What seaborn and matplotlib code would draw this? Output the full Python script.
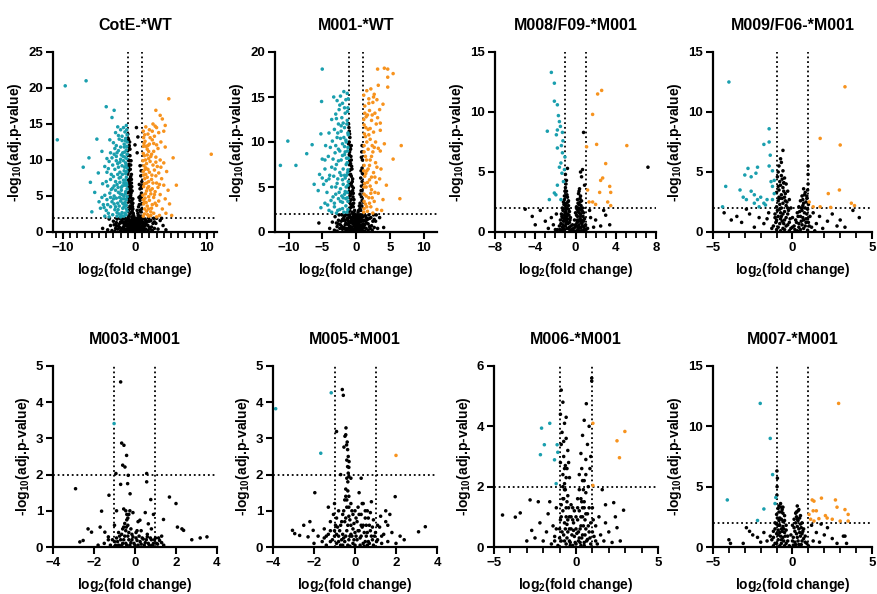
import numpy as np
import pandas as pd
import matplotlib
matplotlib.use("Agg")
import matplotlib.pyplot as plt
import seaborn as sns

# ---- data: (log2 fold change, -log10 adj. p) ----
# group "down" = teal, "up" = orange, "ns" = black

COTE_WT_DOWN = [
    (-9.7, 20.3), (-6.8, 21.0), (-10.8, 12.8), (-4.0, 17.4), (-2.9, 16.9), (-3.2, 15.9), (-5.3, 12.9),
    (-6.4, 10.3), (-7.2, 9.0), (-6.0, 2.8), (-6.2, 6.9), (-5.6, 5.5), (-5.1, 8.2), (-4.6, 11.2), (-4.8, 3.3),
    (-1.2, 14.8), (-1.6, 14.5), (-2.0, 14.2), (-1.4, 13.9), (-2.4, 14.6), (-1.1, 13.5), (-2.7, 13.8),
    (-1.3, 13.0), (-1.8, 12.7), (-2.2, 12.9), (-3.0, 12.4), (-1.5, 12.2), (-2.6, 12.0), (-3.5, 12.8), (-1.1, 12.5), (-2.0, 11.8),
    (-1.2, 11.4), (-1.7, 11.0), (-2.3, 11.3), (-2.9, 10.8), (-3.4, 11.0), (-1.4, 10.4), (-2.0, 10.1), (-2.6, 10.5), (-3.9, 10.2), (-1.1, 10.8),
    (-1.3, 9.6), (-1.8, 9.2), (-2.4, 9.5), (-3.1, 9.3), (-3.7, 8.8), (-1.5, 8.5), (-2.1, 8.3), (-2.8, 8.7), (-4.2, 9.1), (-1.1, 8.9), (-3.3, 8.0),
    (-1.2, 7.6), (-1.6, 7.2), (-2.2, 7.5), (-2.7, 7.0), (-3.4, 7.3), (-4.0, 7.0), (-1.4, 6.5), (-1.9, 6.2), (-2.5, 6.6), (-3.1, 6.1), (-3.8, 6.4), (-4.5, 6.7), (-1.1, 6.0),
    (-1.3, 5.6), (-1.8, 5.2), (-2.3, 5.5), (-2.9, 5.0), (-3.5, 5.4), (-4.2, 5.1), (-1.5, 4.6), (-2.0, 4.3), (-2.6, 4.7), (-3.2, 4.2), (-3.9, 4.5), (-4.6, 4.8), (-1.1, 4.9), (-5.0, 4.2),
    (-1.2, 3.7), (-1.7, 3.3), (-2.2, 3.6), (-2.8, 3.1), (-3.4, 3.5), (-4.0, 3.0), (-4.4, 3.8), (-1.4, 2.6), (-1.9, 2.3), (-2.5, 2.7), (-3.1, 2.4), (-3.7, 2.6), (-1.1, 2.9), (-2.0, 2.1), (-4.2, 2.2), (-1.6, 3.9), (-2.9, 3.9), (-3.6, 2.1),
    (-1.3, 8.1), (-1.9, 10.7), (-2.4, 8.0), (-1.6, 9.9), (-2.1, 6.9), (-1.7, 4.0), (-2.4, 4.0), (-1.2, 3.2), (-1.9, 5.8), (-2.7, 5.8),
    (-1.5, 11.8), (-2.3, 13.4), (-1.8, 13.3), (-1.2, 6.8), (-3.0, 7.7), (-3.6, 9.8), (-2.5, 2.2), (-3.3, 5.9), (-3.9, 8.3), (-4.3, 3.4),
    (-1.15, 14.2), (-1.35, 12.7), (-1.15, 11.9), (-1.45, 11.1), (-1.15, 10.2), (-1.65, 10.5), (-1.25, 9.3), (-1.45, 9.0),
    (-1.15, 8.4), (-1.75, 8.0), (-1.35, 7.2), (-1.55, 6.8), (-1.15, 6.5), (-1.75, 6.4), (-1.35, 5.3), (-1.55, 5.0), (-1.2, 4.5),
    (-1.85, 4.6), (-1.35, 4.1), (-1.5, 3.5), (-1.25, 2.4), (-1.55, 2.2), (-1.8, 2.7), (-2.2, 2.5), (-2.35, 3.1), (-2.15, 4.8),
    (-2.05, 5.3), (-2.35, 6.2), (-2.0, 7.6), (-2.3, 9.0), (-2.1, 9.7), (-2.5, 11.0), (-2.8, 11.6), (-2.6, 9.9), (-3.2, 10.3),
    (-2.9, 6.4), (-3.0, 4.6), (-3.4, 4.8), (-2.7, 3.5), (-3.8, 3.8),
]
COTE_WT_UP = [
    (4.7, 18.5), (2.9, 16.9), (10.6, 10.8), (5.3, 10.3), (5.75, 6.5), (5.1, 2.3), (3.8, 15.7), (4.2, 14.8), (4.0, 14.0), (3.5, 16.2),
    (1.5, 14.6), (2.0, 14.2), (2.5, 15.0), (3.0, 14.5), (1.8, 13.6), (2.7, 13.3), (3.3, 13.8), (1.2, 13.1),
    (1.4, 12.6), (2.0, 12.2), (2.4, 12.8), (3.0, 12.1), (3.6, 12.5), (1.7, 11.5), (2.6, 11.2), (3.2, 11.6), (1.2, 11.9), (4.2, 11.8),
    (1.3, 10.6), (1.9, 10.2), (2.3, 10.8), (2.9, 10.4), (3.5, 10.0), (1.6, 9.5), (2.5, 9.3), (3.1, 9.1), (4.0, 9.6), (1.1, 9.9),
    (1.4, 8.7), (2.0, 8.3), (2.7, 8.6), (3.3, 8.2), (4.4, 8.4), (1.7, 7.6), (2.3, 7.3), (2.9, 7.8), (3.7, 7.4), (1.2, 7.9),
    (1.3, 6.7), (1.9, 6.3), (2.5, 6.8), (3.2, 6.2), (4.0, 6.5), (1.6, 5.7), (2.2, 5.3), (2.8, 5.6), (3.5, 5.2), (4.6, 5.8), (1.1, 5.1),
    (1.4, 4.7), (2.0, 4.4), (2.6, 4.8), (3.3, 4.3), (4.2, 4.6), (1.7, 3.6), (2.3, 3.3), (3.0, 3.7), (3.8, 3.2), (1.2, 3.9), (4.8, 3.9),
    (1.3, 2.5), (1.9, 2.2), (2.6, 2.6), (3.4, 2.3), (4.3, 2.6), (1.6, 2.9), (2.2, 2.8), (3.0, 2.1),
    (1.5, 8.0), (2.1, 9.8), (1.8, 12.0), (2.4, 6.0), (1.3, 4.2), (2.8, 4.0), (1.9, 11.2), (2.4, 14.0), (1.6, 6.8), (3.6, 9.0),
    (1.15, 14.0), (1.35, 13.5), (1.25, 12.3), (1.55, 11.9), (1.15, 10.9), (1.45, 10.0), (1.7, 10.7), (1.25, 9.2), (1.5, 8.9),
    (1.8, 8.7), (1.15, 8.4), (1.35, 7.4), (1.9, 7.0), (1.2, 6.3), (1.75, 6.1), (1.45, 5.3), (1.9, 4.9), (1.15, 4.5), (1.55, 4.1),
    (1.9, 3.2), (1.35, 3.2), (1.15, 2.2), (1.75, 2.4), (2.2, 2.3), (2.4, 3.8), (2.15, 5.8), (2.35, 7.9), (2.2, 10.5), (2.6, 12.3),
    (2.9, 9.7), (3.0, 6.8), (2.7, 5.2), (3.4, 6.6), (2.1, 13.1), (2.8, 14.7),
]
COTE_WT_NS = [
    (-1.0, 13.6), (-0.9, 12.8), (-0.8, 12.0), (-1.0, 11.3), (-0.7, 10.6), (-0.9, 10.0), (-0.6, 9.3), (-0.8, 8.6), (-0.5, 8.0),
    (-0.7, 7.4), (-0.5, 6.8), (-0.8, 6.2), (-0.4, 5.7), (-0.6, 5.1), (-0.3, 4.6), (-0.5, 4.1), (-0.7, 3.6), (-0.3, 3.2), (-0.5, 2.7),
    (-0.2, 2.3), (-0.9, 9.0), (-0.8, 7.0), (-0.6, 4.8), (-0.4, 3.8), (-0.9, 5.5), (-1.0, 8.1), (-0.7, 11.5), (-0.6, 6.0), (-0.4, 2.9),
    (-0.95, 13.0), (-0.85, 11.8), (-0.95, 10.7), (-0.75, 9.9), (-0.85, 9.4), (-0.65, 8.7), (-0.95, 8.4), (-0.6, 7.7), (-0.85, 7.2),
    (-0.7, 6.6), (-0.45, 6.3), (-0.95, 6.5), (-0.55, 5.4), (-0.8, 4.9), (-0.45, 4.4), (-0.8, 4.2), (-0.35, 3.5), (-0.6, 3.3),
    (-0.9, 3.0), (-0.25, 2.6), (-0.7, 2.5), (-0.45, 2.1), (-0.9, 2.2), (-0.15, 2.1), (-0.55, 9.9), (-0.75, 12.5), (-0.65, 5.7),
    (-0.3, 4.0), (-0.95, 4.5), (-0.5, 7.3),
    (0.2, 14.5), (0.4, 13.2), (0.0, 12.1), (0.3, 11.0), (0.7, 9.2), (0.8, 7.8), (0.6, 6.6), (0.9, 5.4), (0.7, 4.4), (0.5, 3.5),
    (0.8, 2.8), (0.6, 2.2), (0.9, 3.9), (0.4, 2.6), (0.7, 6.0), (0.95, 7.0), (0.3, 3.0),
    (0.85, 8.5), (0.9, 6.3), (0.75, 5.0), (0.85, 4.8), (0.6, 3.8), (0.95, 3.2), (0.7, 3.0), (0.45, 2.3), (0.85, 2.2), (0.55, 4.8),
    (-3.8, 0.3), (-3.4, 0.9), (-3.0, 1.5), (-2.7, 0.5), (-2.5, 1.8), (-2.2, 1.1), (-2.0, 0.2), (-1.8, 1.6), (-1.6, 0.7), (-1.4, 1.9),
    (-1.2, 1.2), (-1.0, 0.4), (-0.9, 1.7), (-0.7, 0.9), (-0.6, 1.4), (-0.5, 0.1), (-0.4, 1.9), (-0.3, 0.6), (-0.2, 1.3), (-0.1, 0.3),
    (0.0, 1.7), (0.1, 0.9), (0.2, 0.1), (0.3, 1.5), (0.4, 0.6), (0.5, 1.9), (0.6, 1.1), (0.7, 0.3), (0.8, 1.6), (0.9, 0.8),
    (1.0, 1.3), (1.2, 0.5), (1.4, 1.8), (1.6, 1.0), (1.8, 0.2), (2.0, 1.5), (2.3, 0.7), (2.6, 1.9), (2.9, 1.2), (3.2, 0.4),
    (3.5, 1.6), (3.9, 0.9), (-3.2, 0.2), (-2.9, 1.0), (-2.4, 0.4), (-1.9, 1.3), (-1.5, 0.2), (-1.1, 0.8), (-0.8, 0.2), (-0.6, 0.5),
    (-0.2, 0.8), (0.0, 0.4), (0.2, 1.9), (0.4, 1.2), (0.6, 0.4), (0.9, 1.9), (1.1, 0.9), (1.3, 0.1), (1.7, 1.4), (2.1, 0.4),
    (2.5, 1.2), (3.0, 1.9), (-1.3, 1.5), (-0.9, 1.1), (-0.4, 1.6), (0.3, 0.3), (0.7, 1.8), (1.5, 1.6), (-2.1, 1.9), (-1.7, 0.4),
    (-0.5, 1.1), (0.1, 1.4), (0.5, 0.8), (1.0, 0.1), (-1.0, 1.9), (-0.1, 1.9), (0.8, 1.2), (-4.5, 0.5), (4.3, 0.3), (-3.6, 1.8),
    (3.7, 1.9), (-0.7, 1.6), (0.6, 1.5), (-1.5, 1.0), (1.9, 1.9), (-2.6, 1.3), (2.7, 0.5), (-0.3, 0.2), (0.2, 0.6),
    (-2.8, 0.1), (-2.3, 0.8), (-2.0, 1.4), (-1.8, 0.5), (-1.6, 1.3), (-1.4, 0.4), (-1.3, 0.9), (-1.1, 1.6), (-1.0, 1.1), (-0.8, 0.6),
    (-0.7, 1.3), (-0.6, 0.2), (-0.5, 1.6), (-0.4, 0.9), (-0.3, 1.2), (-0.2, 0.4), (-0.1, 1.1), (0.0, 0.7), (0.1, 0.2), (0.15, 1.6),
    (0.3, 0.9), (0.4, 1.7), (0.5, 0.3), (0.6, 0.7), (0.7, 1.4), (0.8, 0.6), (0.9, 0.3), (1.0, 1.7), (1.1, 0.5), (1.2, 1.3),
    (1.3, 0.8), (1.5, 0.4), (1.6, 1.5), (1.8, 0.9), (2.0, 0.6), (2.2, 1.6), (2.4, 0.2), (2.7, 1.4), (-2.6, 0.9), (-2.1, 0.6),
    (-1.2, 0.3), (-0.9, 0.5), (-0.35, 1.8), (0.25, 1.2), (0.55, 1.7), (-0.15, 1.6), (1.4, 1.2), (-1.7, 1.8), (-0.65, 1.1), (0.05, 1.0),
]

M001_WT_DOWN = [
    (-5.0, 18.1), (-5.1, 14.5), (-10.1, 10.1), (-11.2, 7.4), (-8.9, 7.4), (-7.3, 8.7), (-6.5, 9.7), (-6.2, 5.3), (-5.2, 10.9),
    (-1.3, 15.4), (-1.8, 15.6), (-2.3, 15.1), (-1.5, 14.7), (-2.0, 14.3), (-2.8, 14.6), (-3.3, 15.0), (-1.2, 13.8), (-2.5, 13.6),
    (-1.6, 13.2), (-3.0, 13.1), (-2.1, 12.7), (-1.3, 12.4), (-3.6, 12.5), (-2.6, 12.0), (-1.7, 11.6), (-3.2, 11.4), (-1.2, 11.0),
    (-2.2, 11.2), (-4.0, 11.0), (-2.8, 10.5), (-1.5, 10.2), (-3.5, 10.1), (-2.0, 9.8), (-4.5, 9.6), (-1.2, 9.4), (-2.6, 9.2),
    (-3.1, 8.8), (-1.7, 8.6), (-4.1, 8.4), (-2.2, 8.0), (-5.0, 8.1), (-1.3, 7.7), (-2.9, 7.5), (-3.6, 7.2), (-1.9, 7.0), (-4.6, 7.0),
    (-2.4, 6.6), (-5.4, 6.4), (-1.4, 6.3), (-3.3, 6.2), (-4.0, 5.9), (-2.0, 5.8), (-2.8, 5.4), (-1.2, 5.2), (-4.8, 5.3), (-3.6, 5.0),
    (-2.3, 4.8), (-1.6, 4.5), (-4.3, 4.4), (-3.0, 4.2), (-5.6, 4.6), (-1.3, 3.8), (-2.6, 3.7), (-3.7, 3.5), (-2.0, 3.3), (-4.6, 3.2),
    (-1.5, 2.9), (-3.2, 2.8), (-2.4, 2.5), (-4.0, 2.4), (-1.8, 2.2), (-1.2, 2.5), (-2.9, 2.1), (-3.6, 2.2),
    (-1.4, 8.2), (-2.3, 10.4), (-1.9, 12.1), (-1.6, 6.0), (-2.1, 4.0), (-2.6, 7.9), (-1.3, 4.4), (-3.0, 9.6), (-1.9, 3.8), (-2.7, 5.9),
    (-1.2, 6.9), (-3.4, 3.9), (-1.7, 9.5), (-2.4, 14.1), (-5.2, 2.7),
    (-1.15, 14.8), (-1.25, 13.4), (-1.35, 12.0), (-1.15, 10.8), (-1.45, 10.0), (-1.25, 9.0), (-1.6, 8.9), (-1.15, 8.2),
    (-1.45, 7.5), (-1.25, 6.6), (-1.7, 6.3), (-1.15, 5.6), (-1.45, 5.0), (-1.2, 3.4), (-1.5, 3.7), (-1.7, 4.2), (-1.35, 2.2),
    (-2.0, 2.6), (-2.3, 3.4), (-2.5, 4.4), (-1.9, 5.3), (-2.2, 6.3), (-2.0, 8.5), (-2.4, 9.0), (-1.8, 10.5), (-2.7, 11.0),
    (-2.2, 11.8), (-2.9, 12.6), (-1.7, 13.8), (-3.1, 7.0), (-3.4, 8.1), (-3.8, 9.4), (-3.0, 5.0), (-3.9, 6.3), (-4.4, 5.7),
    (-4.6, 8.0), (-3.2, 3.2), (-2.7, 2.4), (-4.2, 3.0), (-5.0, 6.0),
]
M001_WT_UP = [
    (3.2, 18.1), (4.2, 18.2), (4.7, 18.1), (5.5, 17.6), (4.7, 17.2), (6.7, 9.6), (6.5, 3.7), (5.5, 8.1), (4.5, 5.2), (4.7, 16.1),
    (1.6, 15.7), (2.2, 15.9), (2.7, 15.3), (1.9, 14.8), (2.5, 14.4), (3.1, 14.7), (1.3, 14.0), (2.0, 13.5), (2.8, 13.2), (3.5, 13.6),
    (1.5, 12.8), (2.3, 12.4), (3.0, 12.0), (1.2, 11.9), (1.8, 11.4), (2.6, 11.1), (3.6, 11.3), (1.4, 10.6), (2.1, 10.3), (2.9, 10.0),
    (1.2, 9.6), (1.8, 9.2), (2.5, 8.9), (3.3, 9.3), (4.2, 9.8), (1.4, 8.4), (2.1, 8.0), (2.9, 7.7), (1.2, 7.4), (1.8, 7.0),
    (2.6, 6.6), (3.7, 7.0), (1.3, 6.2), (2.0, 5.8), (3.0, 5.5), (1.5, 5.0), (2.3, 4.7), (3.3, 4.3), (1.2, 4.2), (1.9, 3.8),
    (2.7, 3.4), (4.0, 3.6), (1.4, 3.1), (2.2, 2.8), (3.1, 2.5), (1.7, 2.3), (1.2, 2.6), (2.5, 2.1), (3.8, 2.4),
    (1.7, 13.0), (2.4, 9.6), (1.6, 6.8), (2.2, 4.3), (3.6, 12.1), (1.3, 5.4), (2.8, 6.1), (1.9, 10.8), (4.0, 14.2), (3.3, 16.3),
    (1.15, 15.2), (1.3, 13.2), (1.15, 12.5), (1.45, 11.6), (1.25, 10.9), (1.6, 10.0), (1.2, 8.9), (1.55, 8.0), (1.15, 6.8),
    (1.45, 6.5), (1.7, 5.5), (1.2, 5.0), (1.5, 4.0), (1.2, 3.4), (1.6, 2.8), (1.15, 2.2), (2.0, 3.2), (2.4, 3.8), (2.1, 5.1),
    (2.3, 6.1), (2.0, 7.4), (2.3, 8.4), (2.7, 9.4), (2.1, 11.5), (2.4, 13.0), (1.9, 14.3), (2.6, 15.0), (3.2, 12.7), (3.6, 9.0),
    (3.1, 7.2), (2.8, 4.4), (3.5, 5.9),
]
M001_WT_NS = [
    (-1.1, 12.0), (-1.0, 11.2), (-0.9, 10.5), (-1.1, 9.8), (-0.8, 9.2), (-1.0, 8.6), (-0.7, 8.0), (-0.9, 7.5), (-0.6, 7.0),
    (-0.8, 6.4), (-0.5, 5.9), (-0.7, 5.4), (-0.4, 4.9), (-0.6, 4.4), (-0.9, 4.0), (-0.3, 3.6), (-0.5, 3.1), (-0.8, 2.7),
    (-0.2, 2.4), (-0.6, 2.2), (-1.0, 6.8), (-0.9, 3.4), (-0.7, 9.6), (-1.1, 5.0), (-0.4, 2.8),
    (-1.05, 11.6), (-0.95, 10.9), (-1.0, 10.0), (-0.85, 9.5), (-0.95, 8.9), (-0.75, 8.4), (-0.9, 7.9), (-0.65, 7.3), (-0.85, 6.9),
    (-0.7, 6.2), (-0.55, 5.6), (-0.9, 5.3), (-0.5, 4.6), (-0.75, 4.2), (-0.45, 3.9), (-0.7, 3.6), (-0.35, 3.2), (-0.6, 2.9),
    (-0.95, 2.4), (-0.3, 2.1), (-0.8, 3.1), (-0.6, 5.1), (-1.0, 4.5), (-0.8, 7.6), (-0.4, 4.3),
    (0.9, 9.6), (0.8, 8.3), (0.9, 7.1), (0.7, 6.0), (0.8, 5.1), (0.6, 4.2), (0.9, 3.5), (0.5, 2.9), (0.7, 2.4), (0.3, 2.2),
    (0.9, 4.6), (0.6, 3.2), (0.95, 6.5), (0.85, 8.9), (0.9, 5.6), (0.75, 4.6), (0.8, 3.9), (0.6, 2.6), (0.85, 2.9), (0.4, 2.4),
    (0.95, 8.0), (0.75, 6.8),
    (-3.9, 0.4), (-3.5, 1.1), (-3.1, 1.7), (-2.8, 0.6), (-2.5, 1.9), (-2.2, 1.2), (-2.0, 0.3), (-1.8, 1.6), (-1.6, 0.8), (-1.4, 1.9),
    (-1.2, 1.3), (-1.0, 0.5), (-0.9, 1.7), (-0.7, 1.0), (-0.6, 1.4), (-0.5, 0.2), (-0.4, 1.9), (-0.3, 0.7), (-0.2, 1.3), (-0.1, 0.3),
    (0.0, 1.7), (0.1, 0.9), (0.2, 0.1), (0.3, 1.5), (0.4, 0.6), (0.5, 1.9), (0.6, 1.1), (0.7, 0.3), (0.8, 1.6), (0.9, 0.8),
    (1.0, 1.3), (1.2, 0.5), (1.4, 1.8), (1.6, 1.0), (1.8, 0.2), (2.0, 1.5), (2.3, 0.7), (2.6, 1.9), (2.9, 1.2), (3.2, 0.4),
    (3.5, 1.6), (-3.2, 0.2), (-2.9, 1.0), (-2.4, 0.4), (-1.9, 1.3), (-1.5, 0.2), (-1.1, 0.8), (-0.8, 0.2), (-0.6, 0.5),
    (-0.2, 0.8), (0.0, 0.4), (0.2, 1.9), (0.4, 1.2), (0.6, 0.4), (0.9, 1.9), (1.1, 0.9), (1.3, 0.1), (1.7, 1.4), (2.1, 0.4),
    (2.5, 1.2), (3.0, 1.9), (-1.3, 1.5), (-0.9, 1.1), (-0.4, 1.6), (0.3, 0.3), (0.7, 1.8), (1.5, 1.6), (-2.1, 1.9), (-1.7, 0.4),
    (-0.5, 1.1), (0.1, 1.4), (0.5, 0.8), (1.0, 0.1), (-1.0, 1.9), (-0.1, 1.9), (0.8, 1.2), (-5.5, 1.0), (4.1, 0.5), (-0.7, 1.6),
    (0.6, 1.5), (-1.5, 1.0), (1.9, 1.9), (-2.6, 1.3), (2.7, 0.5), (-0.3, 0.2), (0.2, 0.6),
    (-2.8, 0.1), (-2.3, 0.8), (-2.0, 1.4), (-1.8, 0.5), (-1.6, 1.3), (-1.4, 0.4), (-1.3, 0.9), (-1.1, 1.6), (-1.0, 1.1), (-0.8, 0.6),
    (-0.7, 1.3), (-0.6, 0.2), (-0.5, 1.6), (-0.4, 0.9), (-0.3, 1.2), (-0.2, 0.4), (-0.1, 1.1), (0.0, 0.7), (0.1, 0.2), (0.15, 1.6),
    (0.3, 0.9), (0.4, 1.7), (0.5, 0.3), (0.6, 0.7), (0.7, 1.4), (0.8, 0.6), (0.9, 0.3), (1.0, 1.7), (1.1, 0.5), (1.2, 1.3),
    (1.3, 0.8), (1.5, 0.4), (1.6, 1.5), (1.8, 0.9), (2.0, 0.6), (2.2, 1.6), (2.4, 0.2), (2.7, 1.4), (-2.6, 0.9), (-2.1, 0.6),
    (-1.2, 0.3), (-0.9, 0.5), (-0.35, 1.8), (0.25, 1.2), (0.55, 1.7), (-0.15, 1.6), (1.4, 1.2), (-1.7, 1.8), (-0.65, 1.1), (0.05, 1.0),
]

M008_DOWN = [
    (-2.4, 13.3), (-2.1, 12.4), (-2.1, 10.9), (-1.8, 10.6), (-2.8, 8.4), (-1.6, 9.2), (-1.5, 8.8), (-1.8, 8.5), (-1.3, 8.3),
    (-1.9, 8.1), (-1.4, 7.2), (-1.8, 7.0), (-1.3, 6.6), (-1.05, 6.25), (-1.45, 5.75), (-1.1, 5.2), (-1.35, 4.9), (-1.8, 3.9),
    (-2.1, 3.25), (-2.6, 2.7), (-1.45, 2.7), (-1.95, 3.1), (-1.2, 4.2), (-1.6, 5.4), (-1.25, 7.6), (-1.7, 9.7),
]
M008_UP = [
    (2.6, 11.8), (2.2, 11.5), (1.7, 9.8), (2.1, 7.3), (5.1, 7.2), (1.1, 7.1), (3.0, 5.7), (2.7, 4.5), (2.5, 4.3), (3.4, 3.8),
    (2.4, 3.3), (3.5, 3.3), (1.35, 2.5), (1.7, 2.5), (2.0, 2.3), (3.2, 2.5), (3.5, 2.2), (1.2, 3.5),
]
M008_NS = [
    (-1.0, 3.7), (-0.9, 3.4), (-1.1, 3.0), (-0.8, 2.9), (-1.2, 2.5), (-0.9, 2.4), (-0.7, 2.2), (-1.3, 2.0), (-1.0, 1.9), (-0.6, 1.7),
    (-1.4, 1.5), (-1.1, 1.4), (-0.8, 1.5), (-0.5, 1.2), (-1.5, 1.0), (-1.2, 0.9), (-0.9, 1.0), (-0.6, 0.8), (-0.3, 0.6), (-1.6, 0.5),
    (-1.3, 0.4), (-1.0, 0.5), (-0.7, 0.3), (-0.4, 0.2), (-1.8, 0.2), (-0.2, 0.1), (-0.9, 4.3), (-1.0, 4.8), (-0.8, 5.3), (-1.1, 2.7),
    (-0.8, 1.1), (-1.3, 1.2), (-0.6, 0.4), (-1.1, 0.2), (-0.95, 3.0), (-0.7, 2.6), (-0.85, 2.0), (-1.05, 1.1), (-0.75, 0.7),
    (-1.05, 3.4), (-0.85, 3.1), (-1.15, 2.3), (-0.75, 2.5), (-1.25, 1.8), (-0.95, 1.7), (-0.65, 1.4), (-1.35, 1.3), (-1.15, 1.1),
    (-0.85, 0.8), (-0.55, 1.0), (-1.45, 0.7), (-1.25, 0.6), (-0.95, 0.7), (-0.45, 0.5), (-1.55, 0.2), (-1.35, 0.15), (-0.85, 0.3),
    (-0.55, 0.1), (-1.0, 2.2), (-0.9, 1.3), (-1.2, 0.3), (-0.7, 1.9), (-1.05, 1.6), (-0.95, 4.0),
    (0.4, 3.6), (0.3, 3.2), (0.5, 3.0), (0.2, 2.7), (0.6, 2.6), (0.35, 2.3), (0.1, 2.1), (0.7, 2.0), (0.4, 1.9), (0.0, 1.6),
    (0.8, 1.6), (0.5, 1.5), (0.2, 1.3), (-0.1, 1.0), (0.9, 1.1), (0.6, 1.0), (0.3, 0.9), (0.0, 0.6), (1.0, 0.6), (0.7, 0.5),
    (0.4, 0.4), (-0.2, 0.3), (1.2, 0.3), (0.9, 0.2), (0.1, 0.1), (0.6, 0.1), (0.45, 2.8), (0.25, 1.7), (0.55, 0.8), (0.15, 0.5),
    (0.35, 3.4), (0.45, 2.5), (0.25, 2.4), (0.55, 2.2), (0.15, 1.9), (0.6, 1.8), (0.35, 1.6), (0.75, 1.3), (0.1, 1.4), (0.45, 1.1),
    (0.8, 0.9), (0.15, 0.8), (0.65, 0.7), (0.35, 0.6), (-0.05, 0.4), (0.85, 0.4), (0.55, 0.35), (0.25, 0.3), (1.05, 0.2), (0.4, 0.1),
    (0.75, 0.1), (0.3, 2.0), (0.5, 1.3), (0.2, 1.0), (0.7, 1.7),
    (0.8, 8.3), (0.7, 5.2), (0.5, 5.0), (0.6, 4.6), (0.9, 3.9),
    (-4.3, 1.3), (-4.0, 0.6), (-3.0, 0.9), (-2.7, 0.3), (-2.4, 1.2), (-2.2, 0.6), (-1.9, 1.5), (-3.5, 1.8), (-2.0, 0.2), (1.5, 1.2),
    (2.0, 1.0), (2.5, 0.5), (3.0, 1.4), (3.4, 0.6), (2.8, 1.8), (1.8, 0.4), (1.4, 1.8), (7.2, 5.4), (-5.0, 1.9),
]

M009_DOWN = [
    (-4.0, 12.5), (-1.47, 8.6), (-1.8, 7.3), (-1.47, 7.5), (-2.8, 5.3), (-2.6, 4.6), (-2.3, 4.9), (-2.2, 5.4), (-3.0, 4.75),
    (-1.47, 5.5), (-1.26, 5.1), (-1.4, 6.4), (-1.15, 4.3), (-1.35, 4.2), (-1.26, 3.8), (-4.2, 3.8), (-3.3, 3.5), (-3.1, 2.9),
    (-2.9, 2.7), (-2.6, 3.4), (-2.4, 3.1), (-2.2, 2.7), (-2.0, 2.9), (-1.8, 2.4), (-1.6, 2.7), (-1.7, 2.25), (-2.1, 2.1),
    (-2.4, 2.4), (-4.4, 2.1), (-1.15, 3.2), (-1.26, 2.7),
]
M009_UP = [
    (3.3, 12.1), (1.74, 7.8), (3.0, 7.25), (2.95, 3.5), (2.25, 3.2), (1.05, 2.5), (1.3, 2.1), (1.74, 2.1), (2.4, 2.05),
    (3.7, 2.4), (3.9, 2.2),
]
M009_NS = [
    (-0.7, 4.7), (-0.5, 4.5), (-0.8, 4.2), (-0.4, 4.0), (-0.9, 3.8), (-0.6, 3.7), (-0.3, 3.4), (-1.0, 3.3), (-0.7, 3.1), (-0.5, 2.9),
    (-0.2, 2.7), (-0.9, 2.6), (-0.6, 2.4), (-1.0, 2.1), (-0.4, 2.2), (-0.1, 2.0), (-0.8, 1.9), (-0.5, 1.7), (-1.1, 1.5), (-0.3, 1.5),
    (-0.7, 1.3), (0.0, 1.2), (-1.0, 1.0), (-0.5, 1.0), (-0.2, 0.8), (-0.8, 0.7), (-1.2, 0.5), (-0.4, 0.5), (0.0, 0.4), (-0.6, 0.3),
    (-1.0, 0.2), (-0.2, 0.1), (-0.85, 5.5), (-0.75, 6.1), (-0.6, 6.8), (-0.95, 4.6), (-0.45, 3.2), (-0.75, 1.6), (-0.35, 2.5),
    (-0.65, 0.9), (-0.55, 4.1), (-0.85, 2.9), (-0.25, 1.8),
    (-0.65, 4.4), (-0.55, 4.1), (-0.75, 3.9), (-0.85, 3.5), (-0.55, 3.4), (-0.65, 2.8), (-0.8, 2.3), (-0.45, 2.6), (-0.7, 2.0),
    (-0.95, 1.8), (-0.3, 2.0), (-0.6, 1.5), (-0.9, 1.3), (-0.4, 1.2), (-0.15, 1.1), (-0.75, 1.1), (-1.05, 0.8), (-0.55, 0.7),
    (-0.3, 0.6), (-0.9, 0.4), (-0.5, 0.2), (-0.75, 0.1), (-0.1, 0.3), (-1.1, 1.2), (-0.6, 5.1), (-0.9, 5.0), (-0.7, 5.8), (-0.8, 2.8),
    (0.7, 3.6), (0.8, 3.3), (0.6, 3.0), (0.9, 2.8), (0.5, 2.6), (0.7, 2.4), (1.0, 2.3), (0.4, 2.1), (0.8, 2.0), (0.6, 1.8),
    (0.3, 1.6), (0.9, 1.5), (1.1, 1.3), (0.5, 1.3), (0.2, 1.0), (0.7, 1.0), (1.0, 0.8), (0.4, 0.7), (0.1, 0.5), (0.8, 0.5),
    (1.2, 0.4), (0.5, 0.2), (0.3, 0.1), (0.95, 0.15), (0.98, 4.0), (0.98, 4.8), (0.98, 5.5), (0.65, 2.7), (0.85, 1.1),
    (0.75, 3.1), (0.65, 2.2), (0.85, 2.5), (0.55, 2.0), (0.95, 1.9), (0.45, 1.7), (0.75, 1.6), (0.35, 1.3), (0.65, 1.2), (0.95, 1.1),
    (0.25, 0.8), (0.55, 0.9), (0.85, 0.8), (0.15, 0.2), (0.7, 0.3), (1.05, 0.5), (0.4, 0.4), (0.6, 0.6), (0.9, 3.0), (0.95, 3.5),
    (-3.85, 1.0), (-3.2, 0.8), (-2.7, 1.5), (-2.4, 0.4), (-2.1, 1.2), (-1.8, 0.7), (-1.5, 1.6), (-1.3, 0.3), (-1.6, 1.1),
    (-2.9, 1.9), (-3.5, 1.3), (1.3, 1.6), (1.5, 0.7), (1.7, 1.3), (1.9, 0.3), (2.2, 0.9), (2.5, 1.5), (2.8, 0.5), (3.0, 1.0),
    (3.3, 0.4), (3.8, 1.8), (4.2, 1.2), (1.4, 0.1), (-4.3, 1.6),
]

M003_DOWN = [(-1.02, 3.41)]
M003_UP = []
M003_NS = [
    (-0.7, 1.73), (-0.7, 4.56), (-0.65, 2.87), (-0.54, 2.81), (-0.41, 2.53), (-0.6, 2.26), (-0.49, 2.21), (-0.93, 2.03),
    (-0.33, 1.98), (0.57, 2.03), (0.57, 1.8), (-2.9, 1.61), (-1.27, 1.43), (-0.36, 1.75), (-0.24, 1.47), (0.77, 1.31),
    (1.68, 1.38), (2.0, 1.2), (-1.63, 0.99), (-0.9, 1.0), (-0.55, 1.05), (-0.4, 0.9), (-0.25, 1.0), (-0.1, 0.95),
    (0.24, 0.74), (0.65, 0.64), (1.39, 0.76), (2.07, 0.55), (2.29, 0.5), (2.37, 0.46), (2.77, 0.2), (3.18, 0.25), (3.51, 0.28),
    (-2.29, 0.5), (-2.12, 0.41), (-2.53, 0.18), (-2.69, 0.14), (-1.7, 0.55), (-1.47, 0.41), (-1.3, 0.28),
    (-1.2, 0.05), (-1.0, 0.15), (-0.9, 0.25), (-0.8, 0.05), (-0.7, 0.2), (-0.6, 0.1), (-0.5, 0.3), (-0.4, 0.05), (-0.3, 0.2),
    (-0.2, 0.12), (-0.1, 0.28), (0.0, 0.05), (0.1, 0.18), (0.2, 0.3), (0.3, 0.08), (0.4, 0.22), (0.5, 0.12), (0.6, 0.28),
    (0.7, 0.05), (0.8, 0.2), (0.9, 0.1), (1.0, 0.25), (1.1, 0.08), (1.2, 0.18), (1.4, 0.05), (-1.5, 0.1), (-1.8, 0.05),
    (-0.45, 0.45), (-0.35, 0.6), (-0.4, 0.75), (-0.3, 0.9), (-0.45, 1.0), (-0.2, 0.5), (-0.55, 0.55), (-0.15, 0.35),
    (0.05, 0.4), (0.3, 0.45), (0.6, 0.35), (0.9, 0.9), (0.8, 0.5), (-0.8, 0.4), (-1.0, 0.6), (0.5, 0.95), (0.15, 0.7),
    (-0.65, 0.35), (1.3, 0.3),
    (-1.1, 0.2), (-0.95, 0.05), (-0.85, 0.15), (-0.75, 0.3), (-0.65, 0.05), (-0.55, 0.2), (-0.45, 0.1), (-0.35, 0.3),
    (-0.25, 0.05), (-0.15, 0.2), (-0.05, 0.1), (0.05, 0.25), (0.15, 0.05), (0.25, 0.15), (0.35, 0.25), (0.45, 0.05),
    (0.55, 0.2), (0.65, 0.1), (0.75, 0.25), (0.85, 0.05), (0.95, 0.2), (1.05, 0.1), (1.15, 0.25), (1.3, 0.12), (-1.3, 0.2),
    (-0.5, 0.65), (-0.35, 0.8), (-0.42, 0.55), (-0.3, 0.4), (0.1, 0.45), (-0.6, 0.5),
]

M005_DOWN = [(-3.87, 3.82), (-1.16, 4.26), (-1.67, 2.59)]
M005_UP = [(2.0, 2.53)]
M005_NS = [
    (-2.0, 0.1), (-1.8, 0.3), (-1.6, 0.15), (-1.5, 0.5), (-1.4, 0.05), (-1.3, 0.35), (-1.2, 0.7), (-1.1, 0.2), (-1.0, 0.45),
    (-0.9, 0.1), (-0.9, 0.8), (-0.8, 0.3), (-0.7, 0.6), (-0.7, 0.05), (-0.6, 0.9), (-0.6, 0.35), (-0.5, 0.15), (-0.5, 0.7),
    (-0.4, 1.1), (-0.4, 0.45), (-0.35, 0.05), (-0.3, 0.85), (-0.3, 1.4), (-0.25, 0.3), (-0.2, 0.6), (-0.2, 1.2), (-0.1, 0.1),
    (-0.1, 0.9), (0.0, 0.4), (0.0, 1.0), (0.1, 0.2), (0.1, 0.7), (0.2, 1.5), (0.2, 0.45), (0.25, 0.05), (0.3, 0.9), (0.3, 0.3),
    (0.4, 0.6), (0.4, 1.2), (0.5, 0.15), (0.5, 0.8), (0.6, 0.4), (0.6, 1.0), (0.7, 0.1), (0.7, 0.6), (0.8, 0.3), (0.9, 0.75),
    (0.9, 0.05), (1.0, 0.4), (1.1, 0.2), (1.2, 0.55), (1.3, 0.1), (1.4, 0.35), (1.5, 0.7), (1.6, 0.15), (1.8, 0.4), (2.0, 0.1),
    (-0.45, 1.6), (-0.35, 1.8), (-0.5, 1.3), (-0.15, 0.3), (0.15, 1.1), (-0.65, 0.2), (0.35, 0.55), (-0.05, 0.65), (0.55, 0.3),
    (-0.85, 0.55), (-1.05, 0.9), (1.25, 0.85), (0.75, 0.95), (-0.25, 0.02), (0.45, 0.02),
    (-1.5, 0.25), (-1.2, 0.15), (-1.0, 0.3), (-0.95, 0.6), (-0.8, 0.15), (-0.75, 0.45), (-0.65, 0.7), (-0.55, 0.25), (-0.55, 1.0),
    (-0.45, 0.3), (-0.45, 0.8), (-0.4, 1.3), (-0.35, 0.6), (-0.3, 0.2), (-0.3, 1.1), (-0.25, 0.75), (-0.2, 0.35), (-0.15, 1.0),
    (-0.1, 0.5), (-0.05, 0.2), (0.05, 0.8), (0.05, 0.3), (0.15, 0.45), (0.2, 0.9), (0.25, 0.25), (0.3, 0.6), (0.35, 1.2),
    (0.4, 0.1), (0.45, 0.4), (0.5, 1.0), (0.55, 0.6), (0.65, 0.15), (0.65, 0.8), (0.75, 0.45), (0.85, 0.2), (0.85, 0.55),
    (0.95, 0.3), (1.05, 0.15), (1.1, 0.6), (1.3, 0.3), (-1.2, 0.45), (-1.4, 0.3), (-0.6, 0.05), (0.0, 0.05), (0.6, 0.05),
    (-0.9, 0.35), (-0.45, 1.4), (-0.35, 1.55), (-0.4, 1.9), (-0.3, 2.2), (-0.38, 2.9), (-0.45, 3.1),
    (-0.62, 4.35), (-0.57, 4.19), (-0.9, 3.19), (-0.44, 3.29), (-0.49, 3.06), (-0.41, 2.82), (-0.54, 2.76), (-0.36, 2.69),
    (-0.33, 2.5), (-0.29, 2.36), (-0.36, 2.22), (-0.33, 2.04), (-0.7, 2.0), (-0.3, 1.95), (-1.96, 1.5), (1.96, 1.39),
    (-3.05, 0.46), (-2.94, 0.37), (-2.7, 0.32), (-2.29, 0.28), (-2.04, 0.46), (-2.5, 0.6), (-2.2, 0.7), (3.1, 0.42), (3.43, 0.56),
    (1.6, 0.6), (1.7, 0.9), (1.5, 1.0), (-0.8, 1.0), (-1.0, 1.2), (0.8, 1.25), (-1.3, 1.1), (2.2, 0.3), (2.4, 0.2), (-0.2, 1.9),
    (0.3, 1.9), (-0.4, 2.4),
]

M006_DOWN = [(-2.1, 3.94), (-1.6, 4.1), (-1.93, 3.39), (-2.17, 3.06), (-1.31, 2.89), (-1.15, 3.39), (-1.11, 3.14), (-1.21, 2.1)]
M006_UP = [(1.03, 4.1), (2.98, 3.83), (2.5, 3.52), (2.65, 2.96), (1.03, 2.04)]
M006_NS = [
    (-0.9, 5.2), (-0.8, 4.8), (-0.95, 4.4), (-0.7, 4.1), (-0.85, 3.8), (-0.6, 3.6), (-0.9, 3.4), (-0.5, 3.2), (-0.75, 3.0),
    (-0.95, 2.8), (-0.55, 2.6), (-0.8, 2.4), (-0.4, 2.3), (-0.7, 2.1), (-0.6, 4.3), (-0.75, 3.5), (-0.45, 2.8), (-0.65, 2.7),
    (0.63, 4.75), (0.5, 4.2), (0.96, 5.5), (0.96, 5.6), (0.8, 4.0), (0.4, 3.7), (0.7, 3.4), (0.3, 3.1), (0.6, 2.9), (0.85, 2.6),
    (0.2, 2.4), (0.5, 2.2), (0.75, 2.0), (0.35, 2.6), (0.9, 3.0),
    (-2.5, 0.3), (-2.2, 0.8), (-2.0, 0.2), (-1.8, 0.5), (-1.7, 1.1), (-1.5, 0.1), (-1.4, 0.7), (-1.3, 0.35), (-1.2, 1.3),
    (-1.1, 0.05), (-1.0, 0.6), (-0.9, 0.2), (-0.9, 1.0), (-0.8, 1.6), (-0.75, 0.4), (-0.7, 0.8), (-0.6, 0.1), (-0.6, 1.3),
    (-0.5, 0.5), (-0.5, 1.7), (-0.4, 0.2), (-0.4, 1.0), (-0.3, 0.6), (-0.3, 1.4), (-0.2, 0.05), (-0.2, 0.9), (-0.1, 0.35),
    (-0.1, 1.2), (0.0, 0.6), (0.0, 0.1), (0.1, 0.9), (0.1, 1.6), (0.2, 0.3), (0.2, 1.2), (0.3, 0.05), (0.3, 0.7), (0.35, 1.5),
    (0.4, 0.4), (0.4, 1.0), (0.5, 0.15), (0.5, 1.3), (0.6, 0.6), (0.6, 1.8), (0.7, 0.25), (0.7, 1.1), (0.8, 0.5), (0.9, 0.1),
    (0.9, 0.8), (1.0, 1.3), (1.1, 0.35), (1.2, 0.7), (1.3, 0.1), (1.4, 1.0), (1.5, 0.4), (1.7, 0.2), (1.8, 0.8), (2.0, 0.5),
    (2.2, 0.15), (2.4, 1.0), (-0.65, 1.9), (0.45, 1.9), (-0.35, 0.05), (0.15, 0.5), (-0.55, 0.75), (0.25, 0.15), (-0.15, 0.55),
    (0.55, 0.9),
    (-1.3, 0.2), (-1.2, 0.6), (-1.0, 0.3), (-0.95, 0.9), (-0.85, 0.5), (-0.8, 1.2), (-0.7, 0.2), (-0.65, 0.6), (-0.6, 1.0),
    (-0.55, 0.3), (-0.5, 0.9), (-0.45, 1.3), (-0.4, 0.6), (-0.35, 0.15), (-0.3, 1.0), (-0.25, 0.4), (-0.2, 1.3), (-0.15, 0.8),
    (-0.05, 0.15), (0.0, 1.0), (0.05, 0.45), (0.1, 1.3), (0.15, 0.2), (0.25, 0.6), (0.3, 1.0), (0.35, 0.3), (0.4, 1.3),
    (0.45, 0.7), (0.5, 0.05), (0.55, 0.4), (0.6, 1.1), (0.65, 0.2), (0.75, 0.7), (0.8, 1.3), (0.85, 0.3), (1.0, 0.5),
    (1.05, 0.9), (1.2, 0.2), (-0.75, 1.6), (-0.55, 1.5), (0.3, 1.6), (0.5, 1.5), (-0.9, 1.4), (-0.7, 1.9), (0.2, 1.9),
    (-0.8, 2.0), (0.4, 2.2), (-0.6, 2.3), (-0.7, 2.6), (0.6, 2.4),
    (-4.48, 1.06), (-3.7, 0.99), (-3.4, 1.13), (-2.8, 1.56), (-2.3, 1.5), (2.3, 1.47), (2.9, 1.22), (2.5, 0.64), (1.6, 1.9),
    (-2.7, 0.55), (-1.6, 1.5), (1.8, 1.4), (-3.0, 0.2), (2.7, 0.2),
]

M007_DOWN = [(-2.03, 11.9), (-1.4, 9.0), (-1.25, 6.0), (-4.1, 3.9), (-1.8, 3.15), (-2.2, 2.2), (-1.05, 4.1), (-1.1, 3.6)]
M007_UP = [
    (2.9, 11.9), (1.24, 3.9), (1.35, 3.8), (1.82, 4.05), (2.7, 3.9), (2.8, 3.3), (3.3, 3.1), (3.5, 2.7), (1.3, 3.0), (1.5, 3.0),
    (2.07, 2.6), (1.14, 2.3), (1.35, 2.15), (1.66, 2.35), (2.18, 2.4), (2.5, 2.3), (3.0, 2.15), (3.5, 2.15), (1.04, 2.7),
]
M007_NS = [
    (-0.75, 3.6), (-0.6, 3.3), (-0.9, 3.2), (-0.7, 2.9), (-0.5, 2.6), (-1.0, 2.7), (-0.8, 2.4), (-0.6, 2.1), (-1.1, 2.0),
    (-0.9, 1.8), (-0.4, 1.8), (-0.7, 1.5), (-1.2, 1.3), (-0.5, 1.2), (-0.9, 1.0), (-0.3, 0.9), (-1.3, 0.6), (-0.7, 0.6),
    (-1.0, 0.3), (-0.4, 0.3), (-0.8, 0.1), (-0.98, 4.3), (-0.97, 5.0), (-0.95, 5.7), (-0.98, 6.3), (-0.8, 1.2), (-0.6, 0.8),
    (-0.65, 3.1), (-0.85, 2.2), (-0.55, 1.5),
    (-0.7, 3.3), (-0.85, 2.9), (-0.6, 2.8), (-0.95, 2.4), (-0.7, 2.3), (-0.5, 2.2), (-1.0, 1.9), (-0.8, 1.8), (-0.6, 1.7),
    (-1.1, 1.5), (-0.9, 1.4), (-0.65, 1.3), (-0.4, 1.4), (-1.0, 1.1), (-0.75, 0.9), (-0.45, 0.9), (-1.2, 0.8), (-0.9, 0.6),
    (-0.55, 0.5), (-0.3, 0.5), (-1.1, 0.3), (-0.7, 0.3), (-0.5, 0.1), (-1.2, 0.1), (-0.85, 3.4),
    (0.3, 3.4), (0.4, 3.1), (0.2, 2.8), (0.5, 2.6), (0.1, 2.3), (0.35, 2.2), (0.6, 2.0), (0.0, 1.8), (0.3, 1.7), (0.7, 1.5),
    (0.15, 1.3), (0.45, 1.2), (-0.1, 1.0), (0.8, 0.9), (0.3, 0.8), (0.0, 0.5), (0.6, 0.5), (0.9, 0.3), (0.2, 0.2), (-0.2, 0.1),
    (1.0, 0.1), (0.5, 0.05), (0.25, 2.5), (0.55, 1.6),
    (0.35, 3.0), (0.25, 2.9), (0.45, 2.4), (0.2, 2.0), (0.5, 1.9), (0.1, 1.6), (0.4, 1.5), (0.65, 1.3), (0.25, 1.1), (0.5, 0.9),
    (0.05, 0.8), (0.7, 0.7), (0.35, 0.5), (0.15, 0.4), (0.8, 0.4), (0.55, 0.2), (0.4, 0.2), (0.05, 0.15), (0.6, 1.1), (0.3, 2.3),
    (-4.0, 0.6), (-3.9, 0.3), (-2.7, 1.3), (-2.5, 1.0), (-2.2, 0.8), (-2.0, 0.4), (-1.8, 1.2), (-1.6, 0.5), (-1.4, 0.9),
    (-3.1, 0.3), (1.3, 0.5), (1.5, 1.2), (1.7, 0.4), (2.0, 1.0), (2.2, 1.6), (2.5, 0.7), (2.8, 0.3), (3.2, 0.9), (3.4, 0.3),
    (1.2, 1.8), (-2.9, 1.6), (1.8, 1.9), (3.3, 0.9),
]

TITLES = ["CotE-*WT", "M001-*WT", "M008/F09-*M001", "M009/F06-*M001",
          "M003-*M001", "M005-*M001", "M006-*M001", "M007-*M001"]
GROUPS = [
    (COTE_WT_DOWN, COTE_WT_UP, COTE_WT_NS),
    (M001_WT_DOWN, M001_WT_UP, M001_WT_NS),
    (M008_DOWN, M008_UP, M008_NS),
    (M009_DOWN, M009_UP, M009_NS),
    (M003_DOWN, M003_UP, M003_NS),
    (M005_DOWN, M005_UP, M005_NS),
    (M006_DOWN, M006_UP, M006_NS),
    (M007_DOWN, M007_UP, M007_NS),
]

# axis setup per panel: xlim, major x ticks, minor x step, ylim, y ticks
AXES_CFG = [
    ((-11.4, 11.4), [-10, 0, 10], 1, (0, 25), [0, 5, 10, 15, 20, 25]),
    ((-12, 12), [-10, -5, 0, 5, 10], None, (0, 20), [0, 5, 10, 15, 20]),
    ((-8, 8), [-8, -4, 0, 4, 8], 1, (0, 15), [0, 5, 10, 15]),
    ((-5, 5), [-5, 0, 5], 1, (0, 15), [0, 5, 10, 15]),
    ((-4, 4), [-4, -2, 0, 2, 4], None, (0, 5), [0, 1, 2, 3, 4, 5]),
    ((-4, 4), [-4, -2, 0, 2, 4], None, (0, 5), [0, 1, 2, 3, 4, 5]),
    ((-5, 5), [-5, 0, 5], 1, (0, 6), [0, 2, 4, 6]),
    ((-5, 5), [-5, 0, 5], 1, (0, 15), [0, 5, 10, 15]),
]

# panel rectangles in pixels (left, right) / (top, bottom) of the 878x594 canvas
COL_PX = [(53, 217), (275, 437), (495, 656), (713, 872)]
COL_PX_ROW2 = [(53, 217), (273, 437), (494, 658), (713, 872)]
ROW_PX = [(52, 232), (366, 547)]

PALETTE = {"down": "#1a9fae", "up": "#f7931e", "ns": "black"}

sns.set_theme(style="ticks")
plt.rcParams["font.family"] = ["Liberation Sans", "DejaVu Sans"]
plt.rcParams["font.weight"] = "bold"
plt.rcParams["mathtext.fontset"] = "custom"
plt.rcParams["mathtext.rm"] = "Liberation Sans:bold"
plt.rcParams["mathtext.it"] = "Liberation Sans:bold"
plt.rcParams["mathtext.bf"] = "Liberation Sans:bold"
plt.rcParams["mathtext.default"] = "rm"
for key in ["text.color", "axes.labelcolor", "xtick.color", "ytick.color", "axes.edgecolor"]:
    plt.rcParams[key] = "black"

W, H = 878, 594
fig = plt.figure(figsize=(W / 100, H / 100), dpi=100)

for i, (title, groups, cfg) in enumerate(zip(TITLES, GROUPS, AXES_CFG)):
    row, col = divmod(i, 4)
    x0, x1 = (COL_PX if row == 0 else COL_PX_ROW2)[col]
    y0, y1 = ROW_PX[row]
    ax = fig.add_axes([x0 / W, 1 - y1 / H, (x1 - x0) / W, (y1 - y0) / H])

    rows = []
    for name, pts in zip(["down", "up", "ns"], groups):
        rows += [{"fc": p[0], "p": p[1], "group": name} for p in pts]
    df = pd.DataFrame(rows)
    df["order"] = df["group"].map({"ns": 0, "down": 1, "up": 1})
    df = df.sort_values("order")

    xlim, xt, minor, ylim, yt = cfg
    ax.axvline(-1, color="black", ls=(0, (1, 1.6)), lw=1.3, zorder=1)
    ax.axvline(1, color="black", ls=(0, (1, 1.6)), lw=1.3, zorder=1)
    ax.axhline(2, color="black", ls=(0, (1, 1.6)), lw=1.3, zorder=1)

    sns.scatterplot(data=df, x="fc", y="p", hue="group", palette=PALETTE, s=6.5,
                    linewidth=0, legend=False, ax=ax, zorder=2)

    ax.set_xlim(*xlim)
    ax.set_ylim(*ylim)
    ax.set_xticks(xt)
    ax.set_yticks(yt)
    if minor:
        ax.set_xticks(np.arange(np.ceil(xlim[0]), xlim[1] + 0.01, minor), minor=True)
    ax.tick_params(axis="both", which="major", length=5, width=1.5, labelsize=9.5, pad=2)
    ax.tick_params(axis="x", which="minor", length=4, width=1.3)
    for lab in ax.get_xticklabels() + ax.get_yticklabels():
        lab.set_fontweight("bold")
    sns.despine(ax=ax)
    ax.spines["left"].set_linewidth(1.6)
    ax.spines["bottom"].set_linewidth(1.6)

    ax.set_xlabel(r"log$_2$(fold change)", fontsize=10, fontweight="bold", labelpad=5)
    ax.set_ylabel(r"-log$_{10}$(adj.p-value)", fontsize=10, fontweight="bold", labelpad=3)
    ax.set_title(title, fontsize=11.5, fontweight="bold", pad=16)

fig.savefig("out.png", dpi=100)
